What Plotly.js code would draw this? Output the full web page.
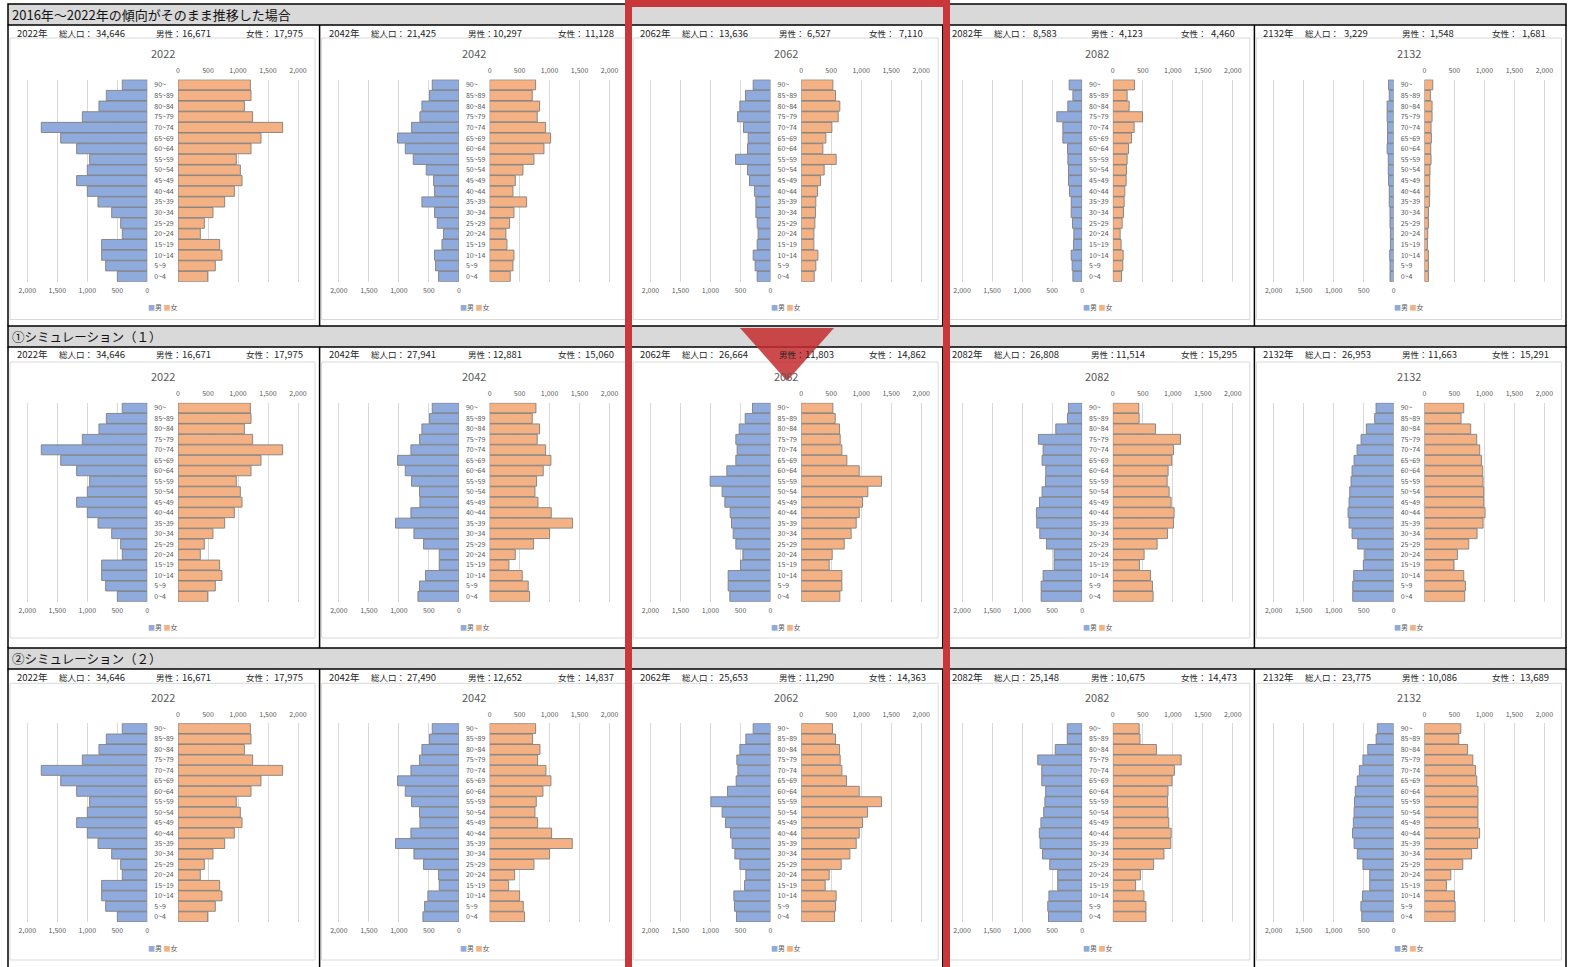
<!DOCTYPE html>
<html><head><meta charset="utf-8">
<script src="https://cdn.plot.ly/plotly-3.0.1.min.js"></script>
<style>html,body{margin:0;padding:0;background:#fff;}#chart{width:1570px;height:967px;}</style>
</head><body><div id="chart"></div>
<script>
// ---------- DATA (top row of each pyramid = 90~) ----------
const ages = ['90~','85~89','80~84','75~79','70~74','65~69','60~64','55~59','50~54','45~49','40~44','35~39','30~34','25~29','20~24','15~19','10~14','5~9','0~4'];
const years = ['2022','2042','2062','2082','2132'];
const scenarioTitles = ['2016年～2022年の傾向がそのまま推移した場合','①シミュレーション（１）','②シミュレーション（２）'];

const male2022   = [417,683,806,1083,1767,1444,1178,961,1000,1178,1000,822,594,444,417,761,761,694,500];
const female2022 = [1206,1217,1106,1244,1744,1383,1217,972,1039,1067,939,778,583,439,372,694,733,622,494];

const baseMale2042   = [444,489,617,650,789,1022,894,761,544,422,406,617,406,361,256,283,406,389,339];
const baseFemale2042 = [767,711,833,794,933,1017,906,739,556,428,389,617,406,333,272,289,406,389,344];
const baseMale2062   = [289,417,511,550,450,372,383,583,383,350,267,244,244,222,206,222,289,256,222];
const baseFemale2062 = [528,572,644,617,511,411,361,583,383,322,272,244,239,228,211,211,278,244,217];
const baseMale2082   = [216,154,238,421,321,321,243,238,227,227,210,182,182,160,138,143,182,166,154];
const baseFemale2082 = [362,239,273,495,356,312,262,239,228,223,200,189,178,156,123,139,173,167,145];
const baseMale2132   = [86,74,110,110,103,103,110,91,91,86,74,74,62,62,55,55,67,62,62];
const baseFemale2132 = [139,100,128,128,111,117,106,111,94,89,89,83,67,67,56,50,67,67,67];

const sim1Male2042   = [444,489,617,656,800,1022,894,789,656,650,800,1056,750,589,328,328,556,656,683];
const sim1Female2042 = [772,711,833,794,933,1022,894,783,756,806,1028,1383,1000,733,428,322,544,644,667];
const sim1Male2062   = [300,422,522,578,556,578,728,1006,806,761,672,650,622,578,461,500,706,706,678];
const sim1Female2062 = [528,567,639,650,678,761,967,1339,1111,1022,967,917,833,717,517,467,678,678,644];
const sim1Male2082   = [228,244,439,728,650,667,606,611,667,711,761,756,706,594,467,467,650,683,683];
const sim1Female2082 = [433,439,711,1128,1011,983,922,906,939,972,1022,1011,911,739,522,444,628,661,672];
const sim1Male2132   = [294,317,456,544,611,661,694,711,733,744,761,744,694,600,483,506,667,683,683];
const sim1Female2132 = [656,611,772,872,922,950,972,978,989,989,1011,978,878,739,550,489,656,683,672];

const sim2Male2042   = [444,489,617,656,800,1022,894,789,656,650,800,1056,750,589,339,328,517,572,600];
const sim2Female2042 = [767,717,839,800,939,1022,889,778,756,800,1033,1378,1000,739,417,317,500,561,583];
const sim2Male2062   = [289,411,511,561,544,572,717,994,806,750,667,639,594,511,411,433,611,600,567];
const sim2Female2062 = [522,572,639,650,678,756,967,1339,1106,1022,967,917,811,667,467,400,583,572,556];
const sim2Male2082   = [247,247,447,740,673,673,607,620,640,687,713,700,660,540,407,407,553,573,560];
const sim2Female2082 = [440,453,727,1140,1027,987,920,913,920,933,973,967,853,680,460,380,520,553,553];
const sim2Male2132   = [273,293,433,513,573,607,640,653,660,673,687,660,607,513,400,400,520,547,533];
const sim2Female2132 = [607,573,720,807,853,873,893,893,893,893,920,887,787,640,440,367,500,513,513];

const baseTotal   = [34646,21425,13636,8583,3229];
const baseMaleT   = [16671,10297,6527,4123,1548];
const baseFemaleT = [17975,11128,7110,4460,1681];
const sim1Total   = [34646,27941,26664,26808,26953];
const sim1MaleT   = [16671,12881,11803,11514,11663];
const sim1FemaleT = [17975,15060,14862,15295,15291];
const sim2Total   = [34646,27490,25653,25148,23775];
const sim2MaleT   = [16671,12652,11290,10675,10086];
const sim2FemaleT = [17975,14837,14363,14473,13689];

const axisTicks = [0,500,1000,1500,2000];

// ---------- BUILD ----------
const maleGrid = [
  [male2022, baseMale2042, baseMale2062, baseMale2082, baseMale2132],
  [male2022, sim1Male2042, sim1Male2062, sim1Male2082, sim1Male2132],
  [male2022, sim2Male2042, sim2Male2062, sim2Male2082, sim2Male2132]];
const femaleGrid = [
  [female2022, baseFemale2042, baseFemale2062, baseFemale2082, baseFemale2132],
  [female2022, sim1Female2042, sim1Female2062, sim1Female2082, sim1Female2132],
  [female2022, sim2Female2042, sim2Female2062, sim2Female2082, sim2Female2132]];
const totals = [[baseTotal,baseMaleT,baseFemaleT],[sim1Total,sim1MaleT,sim1FemaleT],[sim2Total,sim2MaleT,sim2FemaleT]];

const W=1570,H=967;
const px=x=>x/W, py=y=>1-y/H;
const colLeft=[8,319.6,631.2,942.8,1254.4];
const rowGeom=[
 {hdrTop:4,hdrBot:25,bottom:326,info:32.5,boxTop:38,boxBot:319.5,title:52.7,plotTop:79.5,plotBot:281.8,legend:307.3,hfs:13},
 {hdrTop:326,hdrBot:347,bottom:648,info:354.3,boxTop:362,boxBot:638,title:376,plotTop:402.7,plotBot:601.7,legend:627,hfs:12.5},
 {hdrTop:648,hdrBot:669,bottom:967,info:676.7,boxTop:683.3,boxBot:960,title:697.3,plotTop:723.3,plotBot:922,legend:948.3,hfs:12.5}
];
const FONT='"Noto Sans CJK JP","Noto Sans",sans-serif';
const layout={width:W,height:H,margin:{l:0,r:0,t:0,b:0},paper_bgcolor:'#ffffff',plot_bgcolor:'rgba(0,0,0,0)',
  showlegend:false,barmode:'overlay',bargap:0.05,font:{family:FONT,color:'#595959'},shapes:[],annotations:[]};
const traces=[];
const fmt=n=>n.toLocaleString('en-US');
const ax=(p,i)=>p+(i===1?'':i);

rowGeom.forEach((g,r)=>{
  layout.shapes.push({type:'rect',xref:'paper',yref:'paper',x0:px(8),x1:px(1566),y0:py(g.hdrTop),y1:py(g.hdrBot),
    fillcolor:'#d9d9d9',line:{color:'#000',width:1.5},layer:'below'});
  layout.annotations.push({xref:'paper',yref:'paper',x:px(10),y:py((g.hdrTop+g.hdrBot)/2),xanchor:'left',yanchor:'middle',
    text:scenarioTitles[r],showarrow:false,font:{size:g.hfs,color:'#111'}});
  [8,319.6,631.2,942.8,1254.4,1566].forEach(x=>{
    layout.shapes.push({type:'line',xref:'paper',yref:'paper',x0:px(x),x1:px(x),y0:py(g.hdrBot),y1:py(g.bottom),
      line:{color:'#000',width:1.5},layer:'below'});
  });
  for(let c=0;c<5;c++){
    const k=r*5+c, L=colLeft[c];
    const mx=2*k+1, fx=2*k+2, yi=k+1;
    layout.shapes.push({type:'rect',xref:'paper',yref:'paper',x0:px(L+2),x1:px(L+307),y0:py(g.boxTop),y1:py(g.boxBot),
      fillcolor:'#ffffff',line:{color:'#d9d9d9',width:1},layer:'below'});
    const common={tickvals:axisTicks,tickformat:',',showgrid:true,gridcolor:'#d9d9d9',gridwidth:1,zeroline:false,
      showline:false,ticks:'',tickfont:{size:7,color:'#595959'},fixedrange:true,anchor:ax('y',yi)};
    layout[ax('xaxis',mx)]=Object.assign({},common,{domain:[px(L+139.3-122.4),px(L+139.3)],range:[2040,0],side:'bottom',ticklabelstandoff:3});
    layout[ax('xaxis',fx)]=Object.assign({},common,{domain:[px(L+170),px(L+170+122.4)],range:[0,2040],side:'top',ticklabelstandoff:4});
    layout[ax('yaxis',yi)]={domain:[py(g.plotBot),py(g.plotTop)],anchor:ax('x',mx),side:'right',type:'category',
      autorange:'reversed',showgrid:false,zeroline:false,showline:false,ticks:'',tickfont:{size:7,color:'#595959'},
      ticklabelstandoff:6,fixedrange:true};
    traces.push({type:'bar',orientation:'h',name:'男',x:maleGrid[r][c],y:ages,xaxis:ax('x',mx),yaxis:ax('y',yi),
      marker:{color:'#8faadc',line:{color:'#7f7f7f',width:0.9}}});
    traces.push({type:'bar',orientation:'h',name:'女',x:femaleGrid[r][c],y:ages,xaxis:ax('x',fx),yaxis:ax('y',yi),
      marker:{color:'#f4b183',line:{color:'#7f7f7f',width:0.9}}});
    const t=totals[r];
    const info=[[L+7,'left',years[c]+'年',9.5],[L+49,'left','総人口：',8.5],[L+102,'center',fmt(t[0][c]),9.5],
      [L+146,'left','男性：',8.5],[L+188,'center',fmt(t[1][c]),9.5],[L+236,'left','女性：',8.5],[L+280,'center',fmt(t[2][c]),9.5]];
    info.forEach(([x,a,s,fs])=>layout.annotations.push({xref:'paper',yref:'paper',x:px(x),y:py(g.info),xanchor:a,yanchor:'middle',
      text:s,showarrow:false,font:{size:fs,color:'#262626'}}));
    layout.annotations.push({xref:'paper',yref:'paper',x:px(L+154.5),y:py(g.title),xanchor:'center',yanchor:'middle',
      text:years[c],showarrow:false,font:{size:11,color:'#595959'}});
    layout.annotations.push({xref:'paper',yref:'paper',x:px(L+155),y:py(g.legend),xanchor:'center',yanchor:'middle',
      text:"<span style='color:#8faadc'>■</span>男 <span style='color:#f4b183'>■</span>女",showarrow:false,font:{size:7,color:'#595959'}});
  }
});
layout.shapes.push({type:'rect',xref:'paper',yref:'paper',x0:px(628.5),x1:px(946.5),y0:py(3.5),y1:py(990),
  line:{color:'#c9373b',width:7},fillcolor:'rgba(0,0,0,0)',layer:'above'});
layout.shapes.push({type:'path',xref:'paper',yref:'paper',
  path:`M ${px(740)},${py(328)} L ${px(834)},${py(328)} L ${px(787)},${py(381)} Z`,
  fillcolor:'rgba(196,42,46,0.85)',line:{width:0},layer:'above'});

Plotly.newPlot('chart',traces,layout,{displayModeBar:false,staticPlot:true});
</script></body></html>
